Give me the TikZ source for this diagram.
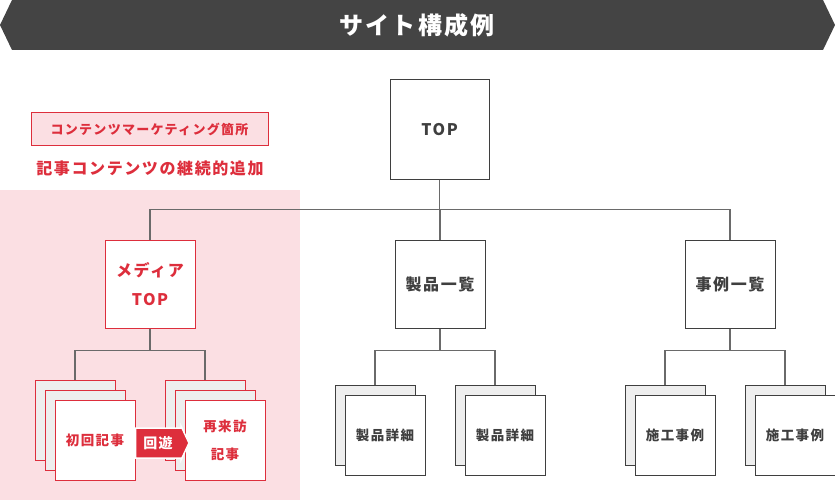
\documentclass[tikz,border=0pt]{standalone}
\usepackage{fontspec}
\setmainfont{Noto Sans CJK JP}[LetterSpace=10]
\usetikzlibrary{positioning}

\definecolor{bannergray}{HTML}{444444}
\definecolor{accent}{HTML}{DD2E3C}
\definecolor{pinkbg}{HTML}{FBDFE3}
\definecolor{cardgray}{HTML}{EEEEEE}
\definecolor{ink}{HTML}{3F3F3F}
\definecolor{wiregray}{HTML}{6A6A6A}

\tikzset{
  pagebox/.style={draw=ink, line width=1pt, fill=white, minimum width=90pt,
    minimum height=88pt, inner sep=0pt, text=ink, align=center,
    font=\bfseries\fontsize{16}{29}\selectfont},
  card/.style={draw=ink, line width=1pt, fill=white, minimum width=80pt,
    minimum height=80pt, inner sep=0pt, text=ink, align=center,
    font=\bfseries\fontsize{13.5}{28}\selectfont},
  backcard/.style={card, fill=cardgray},
  redcard/.style={card, draw=accent, text=accent},
  redback/.style={redcard, fill=cardgray},
  wire/.style={draw=wiregray, line width=1.1pt},
}

\begin{document}
\begin{tikzpicture}[x=1pt, y=-1pt]
  \useasboundingbox (0,0) rectangle (835,500);

  % Banner
  \fill[bannergray] (0,25) -- (12,0) -- (823,0) -- (835,25) -- (823,50) -- (12,50) -- cycle;
  \node[text=white, font=\bfseries\fontsize{24}{28}\selectfont] (title) at (417,25) {サイト構成例};

  % Content marketing area
  \fill[pinkbg] (0,190) rectangle (300,500);
  \node[draw=accent, fill=pinkbg, line width=1pt, minimum width=237pt, minimum height=33pt,
    inner sep=0pt, text=accent, font=\bfseries\fontsize{13}{16}\selectfont] (area) at (149.5,129.5)
    {コンテンツマーケティング箇所};
  \node[text=accent, font=\bfseries\fontsize{16}{20}\selectfont] (areanote) at (150,168)
    {記事コンテンツの継続的追加};

  % Top level
  \node[pagebox, minimum width=99pt, minimum height=99pt] (top) at (439.5,129.5) {TOP};
  \node[pagebox, draw=accent, text=accent] (media) at (150,284) {メディア\\TOP};
  \node[pagebox] (plist) at (440,284) {製品一覧};
  \node[pagebox] (clist) at (730,284) {事例一覧};

  \draw[wire] (top.south) -- ++(0,30) -| (media.north);
  \draw[wire] (top.south) -- ++(0,30) -| (plist.north);
  \draw[wire] (top.south) -- ++(0,30) -| (clist.north);

  % Media articles
  \node[redback] (first1) at (75,420) {};
  \node[redback] (first2) at (85,430) {};
  \node[redcard] (first) at (95,440) {初回記事};
  \node[redback] (again1) at (205,420) {};
  \node[redback] (again2) at (215,430) {};
  \node[redcard] (again) at (225,440) {再来訪\\記事};
  \draw[wire] (media.south) -- ++(0,22) -| (first1.north);
  \draw[wire] (media.south) -- ++(0,22) -| (again1.north);

  % Round trip arrow
  \filldraw[fill=accent, draw=white, line width=1.5pt]
    (135.5,428) -- (181,428) -- (181,426) -- (189,443) -- (181,460) -- (181,458) -- (135.5,458) -- cycle;
  \node[text=white, font=\bfseries\fontsize{14}{16}\selectfont] (visit) at (158,443) {回遊};

  % Product details
  \node[backcard] (pd1b) at (375,425) {};
  \node[card] (pd1) at (385,435) {製品詳細};
  \node[backcard] (pd2b) at (495,425) {};
  \node[card] (pd2) at (505,435) {製品詳細};
  \draw[wire] (plist.south) -- ++(0,22) -| (pd1b.north);
  \draw[wire] (plist.south) -- ++(0,22) -| (pd2b.north);

  % Case studies
  \node[backcard] (cs1b) at (665,425) {};
  \node[card] (cs1) at (675,435) {施工事例};
  \node[backcard] (cs2b) at (785,425) {};
  \node[card] (cs2) at (795,435) {施工事例};
  \draw[wire] (clist.south) -- ++(0,22) -| (cs1b.north);
  \draw[wire] (clist.south) -- ++(0,22) -| (cs2b.north);
\end{tikzpicture}
\end{document}
